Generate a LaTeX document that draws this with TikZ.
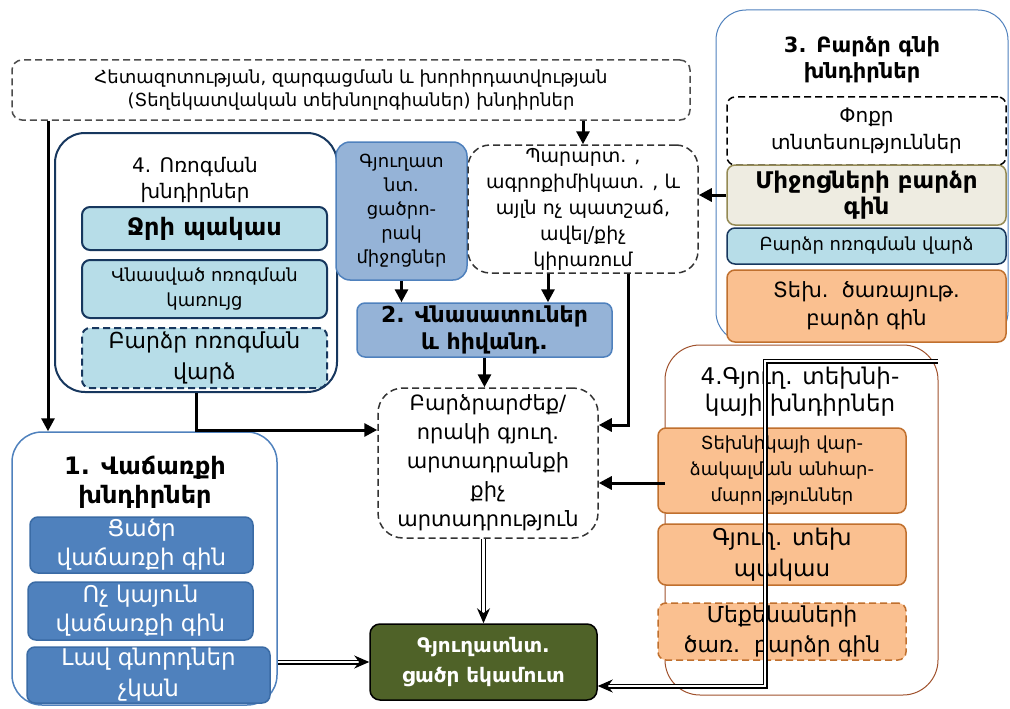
\documentclass[tikz,border=0pt]{standalone}
\usepackage{fontspec}
\setmainfont{DejaVu Sans}
\usetikzlibrary{arrows.meta,calc}
\definecolor{lblue}{HTML}{B7DDE8}
\definecolor{navy}{HTML}{17375E}
\definecolor{mblue}{HTML}{95B3D7}
\definecolor{sblue}{HTML}{4F81BD}
\definecolor{sbluedk}{HTML}{3A6BA5}
\definecolor{beige}{HTML}{EEECE1}
\definecolor{olivel}{HTML}{948A54}
\definecolor{peach}{HTML}{FAC090}
\definecolor{peachline}{HTML}{C0702E}
\definecolor{dgreen}{HTML}{4F6228}
\definecolor{brownline}{HTML}{A0522D}
\newcommand\fsz[2]{\fontsize{#1}{#2}\selectfont}
\tikzset{
  box/.style={rounded corners=8pt, align=center, inner sep=1pt, line width=1.5pt},
  grp/.style={rounded corners=30pt, fill=white, inner sep=0pt},
  dsh/.style={dash pattern=on 7pt off 4pt},
  conn/.style={line width=3pt, -{Triangle[length=13pt,width=13pt]}},
  dbl/.style={double=white, double distance=2.6pt, line width=1.2pt, -{Stealth[length=15pt,width=13pt]}},
  lbbox/.style={box, fill=lblue, draw=navy, line width=2pt},
  mbbox/.style={box, fill=mblue, draw=sblue},
  sbbox/.style={box, fill=sblue, draw=sbluedk, text=white},
  pcbox/.style={box, fill=peach, draw=peachline},
  ttl/.style={align=center, inner sep=0pt}
}
\begin{document}
\begin{tikzpicture}[x=1pt,y=-1pt]
\useasboundingbox (0,0) rectangle (1010,709);

% top box
\node[box, draw=black!70, dsh, rounded corners=10pt, minimum width=678, minimum height=60, font=\fsz{18}{23}] (top) at (351,90)
  {Հետազոտության, զարգացման և խորհրդատվության\\(Տեղեկատվական տեխնոլոգիաներ) խնդիրներ};

% group 3
\node[grp, draw=sblue, line width=1pt, minimum width=292, minimum height=332] (g3) at (862,176) {};
\node[ttl, font=\bfseries\fsz{21}{26}] (g3t) at (862,60) {3. Բարձր գնի\\խնդիրներ};
\node[box, dsh, draw=black, fill=white, minimum width=279, minimum height=68, font=\fsz{20}{27}] (g3a) at (866.5,131)
  {Փոքր\\տնտեսություններ};
\node[box, fill=beige, draw=olivel, minimum width=279, minimum height=60, font=\bfseries\fsz{23}{26}] (g3b) at (866.5,195)
  {Միջոցների բարձր\\գին};
\node[box, fill=lblue, draw=navy, minimum width=279, minimum height=36, font=\fsz{18}{22}] (g3c) at (866.5,246)
  {Բարձր ոռոգման վարձ};
\node[pcbox, minimum width=279, minimum height=72, font=\fsz{21}{28}] (g3d) at (866.5,306)
  {Տեխ.~~ծառայութ.\\բարձր գին};

% group 4 left
\node[grp, draw=navy, line width=2pt, minimum width=282, minimum height=259] (g4) at (196,262.5) {};
\node[ttl, font=\fsz{20}{26}] (g4t) at (195,180) {4. Ոռոգման\\խնդիրներ};
\node[lbbox, minimum width=245, minimum height=43, font=\bfseries\fsz{24}{28}] (g4a) at (204.5,228.5) {Ջրի պակաս};
\node[lbbox, minimum width=245, minimum height=58, font=\fsz{18}{25}] (g4b) at (204.5,289) {Վնասված ոռոգման\\կառույց};
\node[lbbox, dsh, minimum width=245, minimum height=60, font=\fsz{22}{31}] (g4c) at (204.5,358) {Բարձր ոռոգման\\վարձ};

% middle column
\node[mbbox, rounded corners=14pt, minimum width=131, minimum height=138, font=\fsz{18}{24}] (gyu) at (401.5,211)
  {Գյուղատ\\նտ.\\ցածրո-\\րակ\\միջոցներ};
\node[box, dsh, draw=black!80, rounded corners=22pt, minimum width=230, minimum height=128, font=\fsz{19}{26}] (par) at (583,209)
  {Պարարտ. ,\\ագրոքիմիկատ. , և\\այլն ոչ պատշաճ,\\ավել/քիչ\\կիրառում};
\node[mbbox, minimum width=255, minimum height=54, font=\bfseries\fsz{22}{27}] (vna) at (484.5,330)
  {2. Վնասատուներ\\և հիվանդ.};
\node[box, dsh, draw=black!80, rounded corners=25pt, minimum width=220, minimum height=150, font=\fsz{21}{29}] (cen) at (488,463)
  {Բարձրարժեք/\\որակի գյուղ.\\արտադրանքի\\քիչ\\արտադրություն};

% group 1
\node[grp, draw=sblue, line width=1.5pt, minimum width=265, minimum height=273] (g1) at (144.5,568.5) {};
\node[ttl, font=\bfseries\fsz{24}{29}] (g1t) at (145,482) {1. Վաճառքի\\խնդիրներ};
\node[sbbox, minimum width=223, minimum height=56, font=\fsz{23}{29}] (g1a) at (141.5,545) {Ցածր\\վաճառքի գին};
\node[sbbox, minimum width=225, minimum height=58, font=\fsz{23}{29}] (g1b) at (140.5,611) {Ոչ կայուն\\վաճառքի գին};
\node[sbbox, minimum width=243, minimum height=56, font=\fsz{23}{31}] (g1c) at (148.5,675) {Լավ գնորդներ\\չկան};

% bottom
\node[box, fill=dgreen, draw=black, rounded corners=10pt, text=white, minimum width=227, minimum height=76, font=\bfseries\fsz{20}{30}] (bot) at (483.5,662)
  {Գյուղատնտ.\\ցածր եկամուտ};

% tech group
\node[grp, draw=brownline, line width=1pt, rounded corners=35pt, minimum width=273, minimum height=350] (tg) at (801.5,520) {};
\node[ttl, font=\fsz{23}{27}] (tgt) at (800,392) {4.Գյուղ. տեխնի-\\կայի խնդիրներ};
\node[pcbox, minimum width=248, minimum height=85, font=\fsz{18}{26}] (tga) at (782,470.5) {Տեխնիկայի վար-\\ձակալման անհար-\\մարություններ};
\node[pcbox, minimum width=248, minimum height=61, font=\fsz{23}{31}] (tgb) at (782,554.5) {Գյուղ. տեխ\\պակաս};
\node[pcbox, dsh, minimum width=248, minimum height=57, font=\fsz{22}{30}] (tgc) at (782,631.5) {Մեքենաների\\ծառ.~~բարձր գին};

% helper coordinates
\coordinate (xa) at (48,0);
\coordinate (xe) at (548,0);
\coordinate (xg) at (628,0);
\coordinate (jy) at (0,483);
\coordinate (m1) at (938,361);
\coordinate (m2) at (765,361);

% connectors
\draw[conn] (top.south -| xa) -- (g1.north -| xa);
\draw[conn] (top.south -| par.north) -- (par.north);
\draw[conn] (g3b.west) -- (par.east |- g3b.west);
\draw[conn] (gyu.south) -- (vna.north -| gyu.south);
\draw[conn] (par.south -| xe) -- (vna.north -| xe);
\draw[conn] (vna.south) -- (vna.south |- cen.north);
\draw[conn] (par.south -| xg) |- ($(cen.east)+(0,-38)$);
\draw[conn] (g4.south) |- ($(cen.west)+(0,-33)$);
\draw[conn] (tg.west |- jy) -- (cen.east |- jy);
\draw[dbl] (bot.north |- cen.south) -- (bot.north);
\draw[dbl] (g1.east |- bot.west) -- (bot.west);
\draw[dbl] (m1) -- (m2) |- ($(bot.east)+(0,24)$);
\end{tikzpicture}
\end{document}
